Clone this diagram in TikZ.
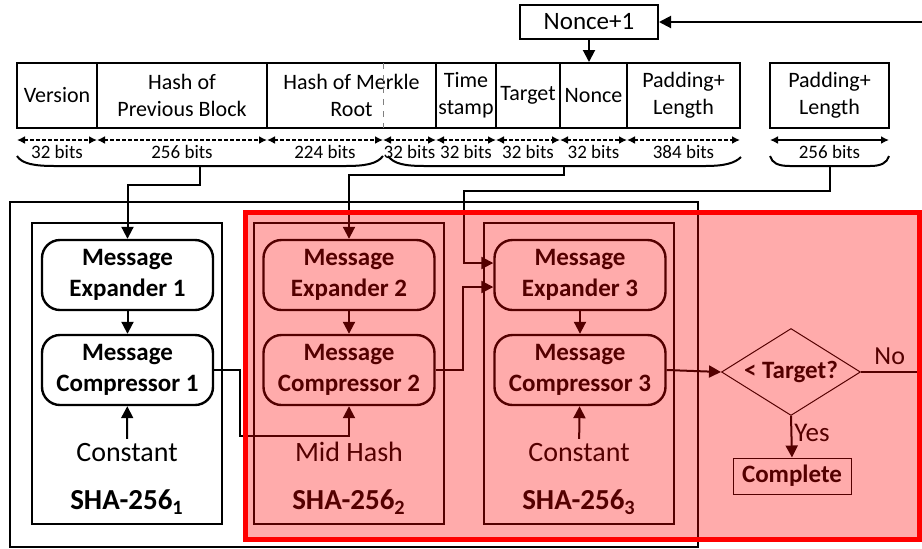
\documentclass[tikz,border=0pt]{standalone}
\usepackage{fontspec}
\setmainfont{Carlito}
\usetikzlibrary{arrows.meta,shapes.geometric}

\newcommand{\fs}[2]{\fontsize{#1}{#2}\selectfont}

\begin{document}
\begin{tikzpicture}[x=0.5pt, y=-0.5pt, line width=1pt, arrows={-Triangle[length=6pt,width=6pt]},
	field/.style={draw, inner sep=0pt, minimum height=32.5pt, align=center, font=\fs{11}{13.5}},
	bits/.style={{Latex[length=4pt,width=4pt]}-{Latex[length=4pt,width=4pt]}},
	bitlabel/.style={below=-1pt, font=\fs{9.5}{11}},
	unit/.style={draw, rounded corners=9pt, line width=1.2pt, minimum width=85.5pt, minimum height=35pt, inner sep=0pt, align=center, font=\bfseries\fs{12.5}{15.5}},
	sha/.style={draw, minimum width=95pt, minimum height=150.5pt, inner sep=0pt},
	note/.style={font=\fs{14}{16}, inner sep=2pt},
	shaname/.style={font=\bfseries\fs{14.5}{16}}]
	\useasboundingbox (0,0) rectangle (922,548);

	% block header
	\node[field, minimum width=40pt] (Ver) at (57,95.5) {Version};
	\node[field, minimum width=85pt] (Prev) at (182,95.5) {Hash of\\Previous Block};
	\node[field, minimum width=84.5pt] (Root) at (351.5,95.5) {Hash of Merkle\\Root};
	\node[field, minimum width=30pt] (Time) at (466,95.5) {Time\\stamp};
	\node[field, minimum width=32pt] (Tgt) at (528,95.5) {Target};
	\node[field, minimum width=33.5pt] (Non) at (593.5,95.5) {Nonce};
	\node[field, minimum width=56.5pt] (Pad) at (683.5,95.5) {Padding+\\Length};
	\node[field, minimum width=59.5pt] (PadB) at (829.5,95.5) {Padding+\\Length};
	\node[draw, inner sep=0pt, minimum width=69pt, minimum height=17pt, font=\fs{12.5}{15}] (Inc) at (589,22) {Nonce+1};
	\draw[-, gray, line width=0.5pt, dashed] (383,63) -- (383,128);

	\foreach \a/\b/\n in {17/97/32, 97/267/256, 267/383/224, 383/436/32, 436/496/32, 496/560/32, 560/627/32, 627/740/384}
		\draw[bits, dash pattern=on 2pt off 1pt] (\a,140) -- node[bitlabel] {\n\ bits} (\b,140);
	\draw[bits] (770,140) -- node[bitlabel] {256 bits} (889,140);

	% braces
	\draw[-] (17,156) .. controls (22,164) and (35,166) .. (55,166) -- (345,166) .. controls (365,166) and (377,164) .. (383,156);
	\draw[-] (388,156) .. controls (394,164) and (405,166) .. (425,166) -- (705,166) .. controls (725,166) and (735,163) .. (741,157);
	\draw[-] (770,156) .. controls (772,163) and (778,166) .. (790,166) -- (870,166) .. controls (881,166) and (887,163) .. (889,156);
	\coordinate (B1) at (200,166);
	\coordinate (B2) at (564,166);
	\coordinate (B3) at (830,166);

	% hashing units
	\draw[-, line width=1.2pt] (10,202) rectangle (698,547);
	\node[sha] (S1) at (127,373.5) {};
	\node[sha] (S2) at (349,373.5) {};
	\node[sha] (S3) at (579,373.5) {};
	\node[unit] (E1) at (127.5,275) {Message\\Expander 1};
	\node[unit] (C1) at (127.5,370) {Message\\Compressor 1};
	\node[unit] (E2) at (349,275) {Message\\Expander 2};
	\node[unit] (C2) at (349,370) {Message\\Compressor 2};
	\node[unit] (E3) at (580,275) {Message\\Expander 3};
	\node[unit] (C3) at (580,370) {Message\\Compressor 3};
	\node[note] (K1) at (127,453) {Constant};
	\node[note] (M2) at (349,452) {Mid Hash};
	\node[note] (K3) at (579,453) {Constant};
	\node[shaname] at (127,502) {SHA-256\textsubscript{1}};
	\node[shaname] at (349,502) {SHA-256\textsubscript{2}};
	\node[shaname] at (579,502) {SHA-256\textsubscript{3}};

	\node[draw, diamond, aspect=1.6, minimum width=69.5pt, minimum height=43.5pt, inner sep=0pt, line width=0.5pt, font=\bfseries\fs{12.5}{15}] (Chk) at (791,372) {< Target?};
	\node[draw, line width=0.5pt, minimum width=59pt, minimum height=18pt, inner sep=0pt, font=\bfseries\fs{12.5}{15}] (Done) at (792,476) {Complete};

	\draw (Inc.south) -- (Inc.south |- Non.north);
	\draw (B1) -- (200,185) -| (E1.north);
	\draw (B2) -- (564,175) -| (E2.north);
	\draw (B3) -- (830,191) -- (464,191) |- ([yshift=6pt]E3.west);
	\draw (E1) -- (C1);
	\draw (E2) -- (C2);
	\draw (E3) -- (C3);
	\draw (K1) -- (C1);
	\draw (K3) -- (C3);
	\draw (C1.east) -| (240,436) -| (C2.south);
	\draw (C2.east) -- (463,370) |- ([yshift=-6pt]E3.west);
	\draw (C3.east) -- (Chk.west);
	\draw (Chk.south) -- node[right, pos=0.4, inner sep=1pt, font=\fs{13.5}{15}] {Yes} (Done.north);
	\draw (Chk.east) -- node[above, pos=0.29, font=\fs{13}{15}] {No} (960,372) |- (Inc.east);

	% second-pass highlight
	\draw[-, red, line width=2.5pt, fill=red, fill opacity=0.33] (245,212) rectangle (919,539);
\end{tikzpicture}
\end{document}
